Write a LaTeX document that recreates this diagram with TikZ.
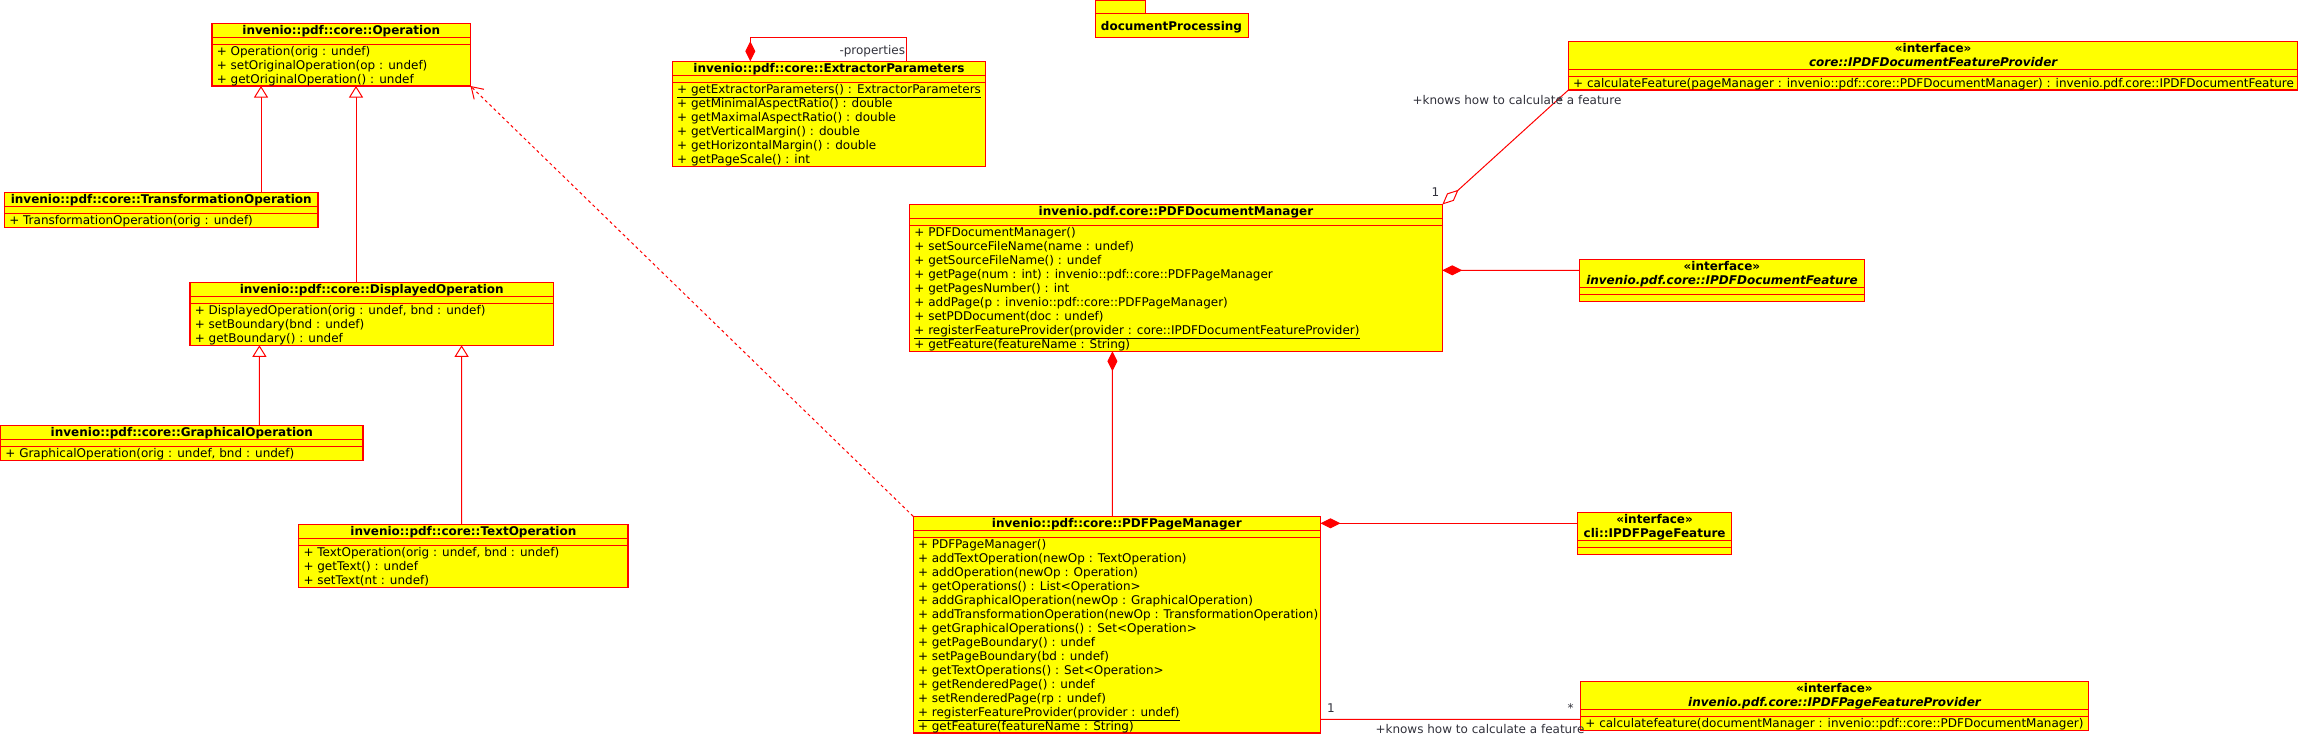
\documentclass[tikz,border=0pt]{standalone}
\usepackage{fontspec}
\setmainfont{DejaVu Sans}[ItalicFont={DejaVu Sans Oblique},BoldFont={DejaVu Sans Bold},BoldItalicFont={DejaVu Sans Bold Oblique}]
\usetikzlibrary{arrows.meta}
\definecolor{umlred}{RGB}{255,0,0}
\definecolor{umlyellow}{RGB}{255,255,0}
\definecolor{lblgrey}{RGB}{50,50,60}
\tikzset{
  cbox/.style 2 args={draw=umlred, fill=umlyellow, line width=1.2pt, inner sep=0pt, outer sep=0pt,
     minimum width=#1pt, minimum height=#2pt, anchor=north west},
  sepline/.style={draw=umlred, line width=1.2pt},
  mt/.style={anchor=base west, inner sep=0pt, outer sep=0pt, font=\fontsize{12}{14}\selectfont, text=black},
  tt/.style={anchor=base, inner sep=0pt, outer sep=0pt, font=\fontsize{12}{14}\selectfont\bfseries, text=black},
  it/.style={anchor=base, inner sep=0pt, outer sep=0pt, font=\fontsize{12}{14}\selectfont\bfseries\itshape, text=black},
  lbl/.style={anchor=base west, inner sep=0pt, outer sep=0pt, font=\fontsize{12}{14}\selectfont, text=lblgrey},
  gen/.style={draw=umlred, line width=1pt, -{Triangle[open, length=11.5pt, width=14pt, fill=white]}},
  dep/.style={draw=umlred, line width=1pt, dash pattern=on 3pt off 3pt, -{Straight Barb[length=11pt, width=14pt]}},
  comp/.style={draw=umlred, line width=1pt, -{Diamond[length=20pt, width=10pt, fill=umlred]}},
  aggr/.style={draw=umlred, line width=1pt, -{Diamond[open, length=22pt, width=10pt, fill=white]}},
  assoc/.style={draw=umlred, line width=1pt},
}
\begin{document}
\begin{tikzpicture}[x=1pt,y=-1pt]
\useasboundingbox (0,0) rectangle (2298,739);
\fill[white] (0,0) rectangle (2298,739);

% ---------- Operation
\node[cbox={258.5}{62.7}] (op) at (212,23.3) {};
\draw[sepline] (212,37.7) -- (470.5,37.7);
\draw[sepline] (212,44.3) -- (470.5,44.3);
\node[tt] (opT) at (341.25,34.3) {invenio::pdf::core::Operation};
\node[mt] (op1) at (216.8,55.3) {+ Operation(orig : undef)};
\node[mt] (op2) at (216.8,69.3) {+ setOriginalOperation(op : undef)};
\node[mt] (op3) at (216.8,83.3) {+ getOriginalOperation() : undef};

% ---------- TransformationOperation
\node[cbox={313.5}{35}] (tr) at (4.5,192.3) {};
\draw[sepline] (4.5,206.7) -- (318,206.7);
\draw[sepline] (4.5,213.3) -- (318,213.3);
\node[tt] (trT) at (161.25,203.3) {invenio::pdf::core::TransformationOperation};
\node[mt] (tr1) at (9.3,224.3) {+ TransformationOperation(orig : undef)};

% ---------- DisplayedOperation
\node[cbox={363.5}{63}] (dis) at (190,282.3) {};
\draw[sepline] (190,296.3) -- (553.5,296.3);
\draw[sepline] (190,303.3) -- (553.5,303.3);
\node[tt] (disT) at (371.75,293.3) {invenio::pdf::core::DisplayedOperation};
\node[mt] (dis1) at (194.8,314.3) {+ DisplayedOperation(orig : undef, bnd : undef)};
\node[mt] (dis2) at (194.8,328.3) {+ setBoundary(bnd : undef)};
\node[mt] (dis3) at (194.8,342.3) {+ getBoundary() : undef};

% ---------- GraphicalOperation
\node[cbox={362.4}{35}] (gr) at (0.6,425.3) {};
\draw[sepline] (0.6,439.3) -- (363,439.3);
\draw[sepline] (0.6,446.3) -- (363,446.3);
\node[tt] (grT) at (181.8,436.3) {invenio::pdf::core::GraphicalOperation};
\node[mt] (gr1) at (5.4,457.3) {+ GraphicalOperation(orig : undef, bnd : undef)};

% ---------- TextOperation
\node[cbox={329.3}{63}] (txt) at (298.7,524.3) {};
\draw[sepline] (298.7,538.3) -- (628,538.3);
\draw[sepline] (298.7,545.3) -- (628,545.3);
\node[tt] (txtT) at (463.35,535.3) {invenio::pdf::core::TextOperation};
\node[mt] (txt1) at (303.5,556.3) {+ TextOperation(orig : undef, bnd : undef)};
\node[mt] (txt2) at (303.5,570.3) {+ getText() : undef};
\node[mt] (txt3) at (303.5,584.3) {+ setText(nt : undef)};

% ---------- ExtractorParameters
\node[cbox={313}{105}] (ext) at (672.4,61.3) {};
\draw[sepline] (672.4,75.3) -- (985.4,75.3);
\draw[sepline] (672.4,82.3) -- (985.4,82.3);
\node[tt] (extT) at (828.9,72.3) {invenio::pdf::core::ExtractorParameters};
\node[mt] (ext1) at (677.2,93.3) {\underline{+ getExtractorParameters() : ExtractorParameters}};
\node[mt] (ext2) at (677.2,107.3) {+ getMinimalAspectRatio() : double};
\node[mt] (ext3) at (677.2,121.3) {+ getMaximalAspectRatio() : double};
\node[mt] (ext4) at (677.2,135.3) {+ getVerticalMargin() : double};
\node[mt] (ext5) at (677.2,149.3) {+ getHorizontalMargin() : double};
\node[mt] (ext6) at (677.2,163.3) {+ getPageScale() : int};

% ---------- package documentProcessing
\node[cbox={49.7}{12.6}] (pkgTab) at (1095.7,0.7) {};
\node[cbox={152.6}{24}] (pkg) at (1095.7,13.3) {};
\node[anchor=base west, inner sep=0pt, font=\fontsize{12}{14}\selectfont\bfseries] (pkgT) at (1100.7,30) {documentProcessing};

% ---------- PDFDocumentManager
\node[cbox={532.7}{146.8}] (dm) at (909.6,204.5) {};
\draw[sepline] (909.6,218.7) -- (1442.3,218.7);
\draw[sepline] (909.6,225.3) -- (1442.3,225.3);
\node[tt] (dmT) at (1175.95,215.5) {invenio.pdf.core::PDFDocumentManager};
\node[mt] (dm1) at (914.4,236.3) {+ PDFDocumentManager()};
\node[mt] (dm2) at (914.4,250.3) {+ setSourceFileName(name : undef)};
\node[mt] (dm3) at (914.4,264.3) {+ getSourceFileName() : undef};
\node[mt] (dm4) at (914.4,278.3) {+ getPage(num : int) : invenio::pdf::core::PDFPageManager};
\node[mt] (dm5) at (914.4,292.3) {+ getPagesNumber() : int};
\node[mt] (dm6) at (914.4,306.3) {+ addPage(p : invenio::pdf::core::PDFPageManager)};
\node[mt] (dm7) at (914.4,320.3) {+ setPDDocument(doc : undef)};
\node[mt] (dm8) at (914.4,334.3) {\underline{+ registerFeatureProvider(provider : core::IPDFDocumentFeatureProvider)}};
\node[mt] (dm9) at (914.4,348.3) {+ getFeature(featureName : String)};

% ---------- core::IPDFDocumentFeatureProvider
\node[cbox={729.6}{48.7}] (dfp) at (1568.4,41.3) {};
\draw[sepline] (1568.4,69.3) -- (2298,69.3);
\draw[sepline] (1568.4,76.3) -- (2298,76.3);
\node[tt] (dfpS) at (1933.2,52.3) {«interface»};
\node[it] (dfpT) at (1933.2,66.3) {core::IPDFDocumentFeatureProvider};
\node[mt] (dfp1) at (1573.2,87.3) {+ calculateFeature(pageManager : invenio::pdf::core::PDFDocumentManager) : invenio.pdf.core::IPDFDocumentFeature};

% ---------- IPDFDocumentFeature
\node[cbox={284.7}{42.4}] (df) at (1579.6,259.3) {};
\draw[sepline] (1579.6,287.7) -- (1864.3,287.7);
\draw[sepline] (1579.6,294.3) -- (1864.3,294.3);
\node[tt] (dfS) at (1721.95,270.3) {«interface»};
\node[it] (dfT) at (1721.95,284.3) {invenio.pdf.core::IPDFDocumentFeature};

% ---------- cli::IPDFPageFeature
\node[cbox={154}{42}] (pf) at (1577.6,512.3) {};
\draw[sepline] (1577.6,540.3) -- (1731.6,540.3);
\draw[sepline] (1577.6,547.3) -- (1731.6,547.3);
\node[tt] (pfS) at (1654.6,523.3) {«interface»};
\node[tt] (pfT) at (1654.6,537.3) {cli::IPDFPageFeature};

% ---------- PDFPageManager
\node[cbox={407.2}{216.7}] (pm) at (913.2,516.3) {};
\draw[sepline] (913.2,530.3) -- (1320.4,530.3);
\draw[sepline] (913.2,537.3) -- (1320.4,537.3);
\node[tt] (pmT) at (1116.8,527.3) {invenio::pdf::core::PDFPageManager};
\node[mt] (pm1) at (918,548.3) {+ PDFPageManager()};
\node[mt] (pm2) at (918,562.3) {+ addTextOperation(newOp : TextOperation)};
\node[mt] (pm3) at (918,576.3) {+ addOperation(newOp : Operation)};
\node[mt] (pm4) at (918,590.3) {+ getOperations() : List<Operation>};
\node[mt] (pm5) at (918,604.3) {+ addGraphicalOperation(newOp : GraphicalOperation)};
\node[mt] (pm6) at (918,618.3) {+ addTransformationOperation(newOp : TransformationOperation)};
\node[mt] (pm7) at (918,632.3) {+ getGraphicalOperations() : Set<Operation>};
\node[mt] (pm8) at (918,646.3) {+ getPageBoundary() : undef};
\node[mt] (pm9) at (918,660.3) {+ setPageBoundary(bd : undef)};
\node[mt] (pm10) at (918,674.3) {+ getTextOperations() : Set<Operation>};
\node[mt] (pm11) at (918,688.3) {+ getRenderedPage() : undef};
\node[mt] (pm12) at (918,702.3) {+ setRenderedPage(rp : undef)};
\node[mt] (pm13) at (918,716.3) {\underline{+ registerFeatureProvider(provider : undef)}};
\node[mt] (pm14) at (918,730.3) {+ getFeature(featureName : String)};

% ---------- IPDFPageFeatureProvider
\node[cbox={507.7}{49}] (pfp) at (1580.6,681.7) {};
\draw[sepline] (1580.6,709.3) -- (2088.3,709.3);
\draw[sepline] (1580.6,716.7) -- (2088.3,716.7);
\node[tt] (pfpS) at (1834.45,692.7) {«interface»};
\node[it] (pfpT) at (1834.45,706.7) {invenio.pdf.core::IPDFPageFeatureProvider};
\node[mt] (pfp1) at (1585.4,727.7) {+ calculatefeature(documentManager : invenio::pdf::core::PDFDocumentManager)};

% ---------- connectors
\draw[gen] ([xshift=256.5pt]tr.north west) -- ([xshift=49pt]op.south west);
\draw[gen] ([xshift=166pt]dis.north west) -- ([xshift=144pt]op.south west);
\draw[gen] ([xshift=258.8pt]gr.north west) -- ([xshift=69.4pt]dis.south west);
\draw[gen] ([xshift=162.9pt]txt.north west) -- ([xshift=271.6pt]dis.south west);
\draw[dep] (pm.north west) -- (op.south east);

\draw[comp] ([xshift=234.2pt]ext.north west) |- ([xshift=77.9pt,yshift=24pt]ext.north west) -- ([xshift=77.9pt]ext.north west);
\node[lbl] (propL) at (839.5,54) {-properties};

\draw[comp] ([yshift=10.2pt]df.west) -- ([yshift=7.6pt]dm.east);
\draw[comp] ([xshift=199.2pt]pm.north west) -- ([xshift=202.8pt]dm.south west);
\draw[comp] ([yshift=-11pt]pf.north west) -- ([yshift=-7pt]pm.north east);

\draw[assoc] ([yshift=13.7pt]pm.south east) -- ([yshift=11.4pt]pfp.south west);
\node[lbl] (a1) at (1327,712) {1};
\node[lbl] (a2) at (1567.5,712) {*};
\node[lbl] (a3) at (1375.5,733.3) {+knows how to calculate a feature};

\draw[aggr] (dfp.south west) -- (dm.north east);
\node[lbl] (b1) at (1431.5,196) {1};
\node[lbl] (b3) at (1412.5,104.5) {+knows how to calculate a feature};
\node[lbl] (b2) at (1557,105) {*};
\end{tikzpicture}
\end{document}
